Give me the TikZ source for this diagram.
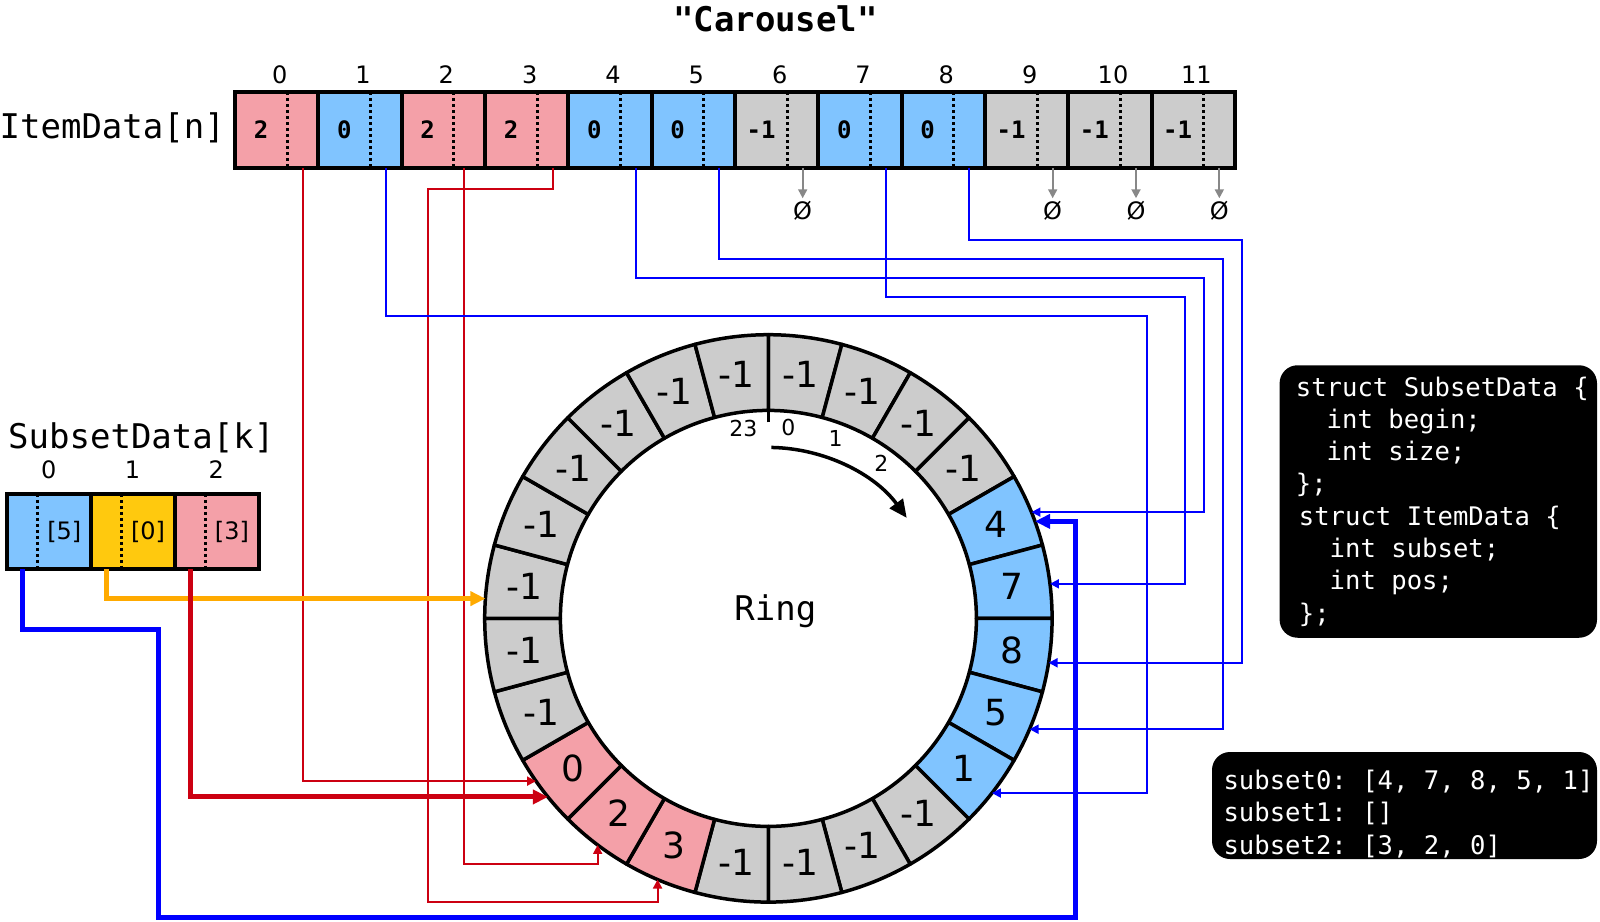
\documentclass[tikz,border=0pt]{standalone}
\usepackage{fontspec}
\setmainfont{DejaVu Sans}
\setmonofont{DejaVu Sans Mono}
\usetikzlibrary{arrows.meta,positioning}
\definecolor{itempink}{HTML}{F4A0A8}
\definecolor{itemblue}{HTML}{80C4FF}
\definecolor{itemgray}{HTML}{CCCCCC}
\definecolor{subyellow}{HTML}{FFC90E}
\definecolor{wirered}{HTML}{CC0011}
\definecolor{wireblue}{HTML}{0000FF}
\definecolor{wireorange}{HTML}{FFAA00}
\definecolor{nullgray}{HTML}{888888}

\begin{document}
\begin{tikzpicture}[x=1pt,y=1pt,
  cellbase/.style={rectangle,inner sep=0pt,outer sep=0pt,minimum height=76pt},
  subpart/.style={cellbase,minimum width=52.1pt,font=\ttfamily\bfseries\fontsize{24}{28}\selectfont},
  pospart/.style={cellbase,minimum width=31.2pt},
  sbeg/.style={cellbase,minimum height=75.5pt,minimum width=30.6pt},
  ssize/.style={cellbase,minimum height=75.5pt,minimum width=53.2pt,font=\fontsize{24}{28}\selectfont},
  frame/.style={draw=black,line width=4pt},
  divider/.style={draw=black,line width=3pt,dash pattern=on 3pt off 3pt},
  idx/.style={inner sep=0pt,font=\fontsize{24}{28}\selectfont},
  bigmono/.style={inner sep=0pt,font=\ttfamily\fontsize{34}{40}\selectfont},
  nullmark/.style={inner sep=3pt,font=\fontsize{24}{28}\selectfont},
  nullarrow/.style={draw=nullgray,line width=2pt,-{Triangle[length=9pt,width=9pt]}},
  slot/.style={draw=black,line width=3.5pt,line join=round},
  ringval/.style={inner sep=0pt,font=\fontsize{36}{42}\selectfont},
  ticklbl/.style={inner sep=0pt,font=\fontsize{22}{26}\selectfont},
  itemwire/.style={line width=2pt,-{Triangle[length=9pt,width=9pt]}},
  subwire/.style={line width=5pt,-{Triangle[length=15pt,width=14pt]}},
  codebox/.style={fill=black,text=white,rounded corners=18pt,align=left,inner sep=0pt,
    font=\ttfamily\fontsize{25.6}{32.3}\selectfont}]

  \useasboundingbox (0,0) rectangle (1600,-921);

  \node[bigmono,font=\ttfamily\bfseries\fontsize{34}{40}\selectfont] (title) at (775.5,-19) {"Carousel"};

  % item array
  \foreach \v/\c [count=\i from 0] in {2/itempink,0/itemblue,2/itempink,2/itempink,0/itemblue,0/itemblue,
      -1/itemgray,0/itemblue,0/itemblue,-1/itemgray,-1/itemgray,-1/itemgray} {
    \node[subpart,fill=\c] (i\i) at ({261.05+83.33*\i},-130) {\v};
    \node[pospart,fill=\c,right=0pt of i\i] (i\i p) {};
    \draw[divider] (i\i.north east) -- (i\i.south east);
    \draw[frame] (i\i.north west) rectangle (i\i p.south east);
    \node[idx] (n\i) at ([xshift=-7.4pt,yshift=17.5pt]i\i.north east) {\i};
  }
  \node[bigmono,left=10pt of i0,yshift=2pt] (itemlbl) {ItemData[n]};

  \foreach \k in {6,9,10,11} {
    \node[nullmark] (z\k) at ([yshift=-43pt]i\k p.south) {Ø};
    \draw[nullarrow] (i\k p.south) -- (z\k);
  }

  % subset array
  \node[bigmono,anchor=west] (sublbl) at (8,-438) {SubsetData[k]};
  \foreach \v/\c [count=\i from 0] in {5/itemblue,0/subyellow,3/itempink} {
    \node[sbeg,fill=\c] (s\i) at ({22.4+83.8*\i},-531.7) {};
    \node[ssize,fill=\c,right=0pt of s\i] (s\i z) {[\v]};
    \draw[divider] (s\i.north east) -- (s\i.south east);
    \draw[frame] (s\i.north west) rectangle (s\i z.south east);
    \node[idx] (m\i) at ([xshift=11pt,yshift=24.6pt]s\i.north east) {\i};
  }

  % ring
  \coordinate (rc) at (768.4,-618.4);
  \node[circle,minimum size=567.4pt,inner sep=0pt,outer sep=0pt] (ring) at (rc) {};
  \begin{scope}[shift={(rc)}]
    \foreach \v/\c [count=\i from 0] in {-1/itemgray,-1/itemgray,-1/itemgray,-1/itemgray,
        4/itemblue,7/itemblue,8/itemblue,5/itemblue,1/itemblue,-1/itemgray,-1/itemgray,-1/itemgray,
        -1/itemgray,3/itempink,2/itempink,0/itempink,-1/itemgray,-1/itemgray,-1/itemgray,-1/itemgray,
        -1/itemgray,-1/itemgray,-1/itemgray,-1/itemgray} {
      \pgfmathsetmacro\a{90-15*\i}
      \pgfmathsetmacro\b{\a-15}
      \pgfmathsetmacro\m{\a-7.5}
      \filldraw[slot,fill=\c] (\a:283.7) arc[start angle=\a,end angle=\b,radius=283.7]
        -- (\b:208) arc[start angle=\b,end angle=\a,radius=208] -- cycle;
      \node[ringval] (r\i) at (\m:246) {\v};
    }
    \draw[slot] (90:196) -- (90:208);
    \node[ticklbl] (t23) at (97.5:192) {23};
    \node[ticklbl] (t0) at (84:192) {0};
    \node[ticklbl] (t1) at (69.5:192) {1};
    \node[ticklbl] (t2) at (54:192) {2};
    \draw[line width=3.5pt,-{Triangle[length=18pt,width=16pt]}] (89:171) arc[start angle=89,end angle=36,radius=171];
    \node[bigmono] (ringlbl) at (7,7) {Ring};
  \end{scope}

  % item -> ring
  \draw[itemwire,wirered] (i0p.south) |- (ring.215);
  \draw[itemwire,wirered] ([xshift=-5pt]i2p.south) -- ++(0,-696.3) -| (ring.233);
  \draw[itemwire,wirered] (i3p.south) -- ++(0,-21) -| (427.5,-902) -| (ring.247);
  \draw[itemwire,wireblue] (i1p.south) |- (1147,-315.5) |- (ring.322);
  \draw[itemwire,wireblue] (i4p.south) |- (1204,-278) |- (ring.22);
  \draw[itemwire,wireblue] (i5p.south) |- (1222.5,-259) |- (ring.337);
  \draw[itemwire,wireblue] (i7p.south) |- (1185,-297) |- (ring.7);
  \draw[itemwire,wireblue] (i8p.south) |- (1242,-240) |- (ring.351);

  % subset -> ring
  \draw[subwire,wireorange] (s1.south) |- (ring.176);
  \draw[subwire,wirered] (s2.south) |- (ring.219);
  \draw[subwire,wireblue] (s0.south) |- (158.2,-629.6) |- (1075.5,-917) |- (ring.20);

  % code
  \node[codebox,minimum width=317.4pt,minimum height=272.5pt] (structs) at (1438.3,-501.5)
    {\hspace*{8pt}struct SubsetData \{\\\hspace*{8pt}\hphantom{xx}int begin;\\
     \hspace*{8pt}\hphantom{xx}int size;\\\hspace*{8pt}\};\\
     \hspace*{11pt}struct ItemData \{\\\hspace*{11pt}\hphantom{xx}int subset;\\
     \hspace*{11pt}\hphantom{xx}int pos;\\\hspace*{11pt}\};};
  \node[codebox,minimum width=385pt,minimum height=107pt] (lists) at (1404.5,-805.5)
    {\rule{0pt}{36pt}\hspace*{8pt}subset0: [4, 7, 8, 5, 1]\\\hspace*{8pt}subset1: []\\
     \hspace*{8pt}subset2: [3, 2, 0]};
\end{tikzpicture}
\end{document}
